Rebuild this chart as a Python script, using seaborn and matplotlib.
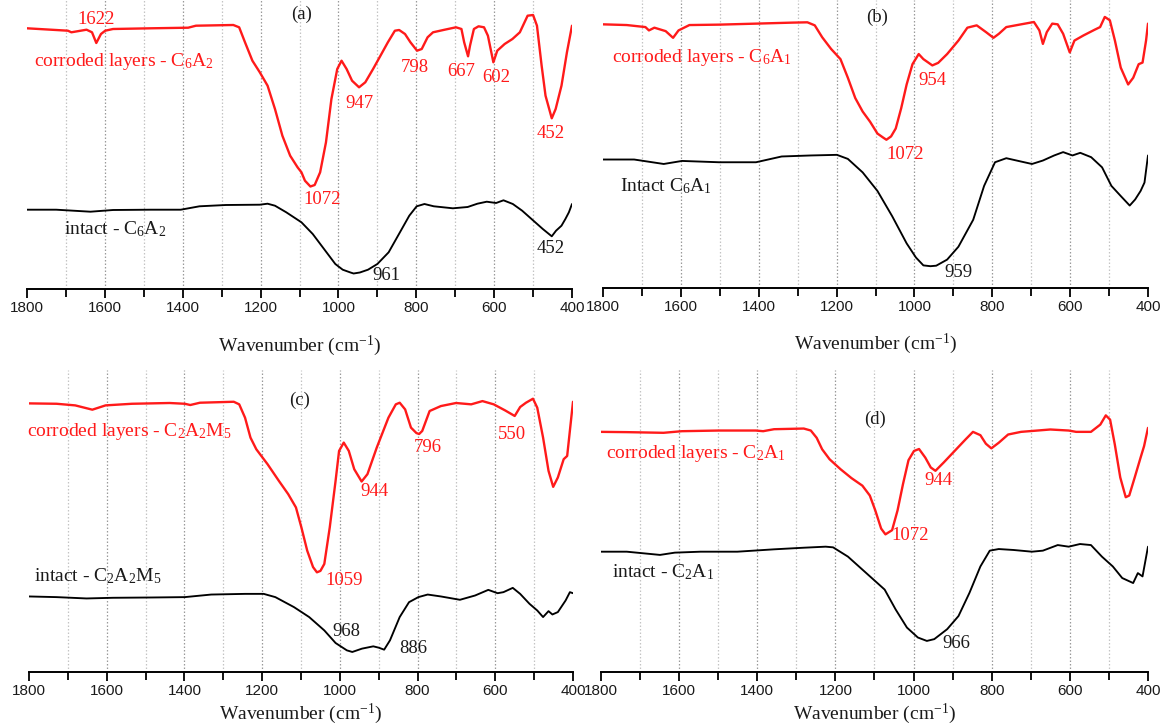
import matplotlib
matplotlib.use("Agg")
import matplotlib.pyplot as plt
import seaborn as sns
from matplotlib.ticker import MultipleLocator

# ---------------- FTIR spectra (transmittance, arbitrary units) ----------------
# (a) C6A2
a_cor_wn = [1800, 1695, 1686, 1647, 1633, 1622, 1610, 1599, 1579, 1482, 1386, 1366, 1270, 1255, 1240,
            1221, 1202, 1182, 1163, 1144, 1124, 1105, 1095, 1086, 1072, 1061, 1047, 1032, 1018, 1003,
            992, 979, 965, 947, 931, 911, 892, 873, 855, 844, 829, 815, 798, 786, 771, 757, 727, 698,
            684, 677, 667, 662, 652, 640, 626, 616, 602, 592, 573, 553, 534, 514, 500, 490, 478, 468,
            452, 442, 427, 413, 400]
a_cor_t = [260.7, 258.3, 256.7, 259.3, 256.7, 246, 255, 258.3, 260, 260.7, 261.3, 263.3, 264, 261.7, 246.7,
           228.3, 216.7, 203.3, 180, 153.3, 133.3, 121.7, 116.7, 108.3, 102.5, 104, 116.7, 146.7, 190, 220,
           228.3, 220, 208.3, 201.7, 206.7, 220, 233.3, 246.7, 258.3, 259, 255, 246.7, 238.3, 240, 251.7,
           256.7, 259.3, 261.7, 260, 246.7, 232.7, 243.3, 260, 262.7, 261.7, 253.3, 226.7, 238.3, 245,
           250, 256.7, 273.3, 274, 263.3, 223.3, 193.3, 170.7, 180, 203.3, 236.7, 263.3]
a_int_wn = [1800, 1725, 1637, 1579, 1482, 1405, 1357, 1289, 1202, 1182, 1163, 1134, 1095, 1066, 1037,
            1008, 989, 969, 961, 945, 924, 900, 871, 842, 818, 799, 779, 755, 706, 668, 643, 619, 595,
            576, 552, 528, 504, 475, 452, 441, 427, 417, 408, 400]
a_int_t = [79.3, 79.3, 77.3, 79, 79.3, 79.3, 82.7, 84, 84.3, 85.3, 83.3, 76.7, 66.7, 55, 40, 25, 19.3,
           16.5, 15.5, 16.5, 19.3, 25, 36.7, 56.7, 73.3, 82.7, 85, 82.7, 80.7, 82, 85.3, 87.3, 86, 88.7,
           85, 78.3, 70, 60, 52.7, 58.3, 63.3, 70, 76.7, 85]

# (b) C6A1
b_cor_wn = [1800, 1739, 1691, 1682, 1668, 1639, 1620, 1606, 1578, 1502, 1407, 1313, 1275, 1256, 1237,
            1214, 1190, 1171, 1152, 1133, 1114, 1095, 1081, 1072, 1060, 1048, 1034, 1020, 1005, 989,
            977, 954, 939, 916, 887, 864, 840, 816, 797, 783, 764, 726, 693, 679, 670, 660, 646, 632,
            618, 601, 589, 566, 537, 523, 511, 498, 485, 470, 451, 438, 424, 414, 405, 400]
b_cor_t = [260, 259.3, 257.3, 254, 256.7, 253.3, 246.7, 254, 259.3, 259.7, 260.7, 261.7, 262, 259, 247.3,
           235.7, 225.7, 207.3, 187.3, 174, 164, 152.3, 148.5, 146.2, 149.5, 157.3, 177.3, 200.7, 220.7,
           230.7, 225.7, 219.5, 222, 230.7, 244, 256.7, 259, 252.3, 246.7, 250.7, 257.3, 260, 262.3,
           254, 240.7, 252.3, 260.7, 260, 250.7, 232.3, 244, 249, 254.7, 257.3, 267.3, 264, 244, 217.3,
           200.7, 207.3, 220.7, 222.3, 244, 260.7]
b_int_wn = [1800, 1720, 1644, 1597, 1502, 1407, 1341, 1266, 1199, 1171, 1133, 1095, 1057, 1020, 996,
            977, 959, 944, 916, 887, 849, 821, 793, 764, 726, 698, 670, 641, 618, 594, 574, 546, 518,
            494, 470, 447, 433, 419, 409, 400]
b_int_t = [126.7, 126.7, 122.3, 125.3, 124, 124, 129.7, 130.7, 131.3, 127.3, 114, 95.7, 70.7, 44, 30,
           22.3, 21.5, 22, 28, 40.7, 67.3, 100.7, 124, 128, 124.7, 122.3, 125.7, 130.7, 134, 130.7,
           133.3, 129, 119, 100.7, 90.7, 81.3, 87.3, 95.7, 104, 130.7]

# (c) C2A2M5
c_cor_wn = [1800, 1729, 1681, 1637, 1603, 1535, 1438, 1399, 1385, 1360, 1273, 1259, 1244, 1230, 1215,
            1186, 1157, 1133, 1113, 1099, 1084, 1069, 1059, 1050, 1040, 1026, 1011, 1002, 990, 977,
            963, 944, 929, 905, 875, 856, 846, 832, 817, 803, 796, 788, 769, 740, 701, 662, 633, 604,
            575, 550, 536, 521, 503, 492, 477, 463, 451, 439, 424, 415, 400]
c_cor_t = [267.6, 267.2, 265.5, 261, 265.5, 267.2, 268, 267.2, 265.9, 268.3, 269.3, 266.6, 252.6, 231.7,
           219.5, 203.8, 186.4, 172.5, 158.5, 137.6, 113.2, 96, 90.5, 92, 99.3, 137.6, 186.4, 217.8,
           226.5, 217.8, 198.6, 185.7, 193.4, 221.3, 252.6, 266.6, 268.3, 261.3, 242.2, 236.5, 235.5,
           238.7, 259.6, 264.8, 268, 266.6, 270, 266.6, 260.3, 254.4, 263.8, 268.3, 272.5, 263.1, 231.7,
           196.9, 180.1, 189.9, 209.1, 212.5, 269.3]
c_int_wn = [1800, 1729, 1652, 1584, 1487, 1399, 1331, 1244, 1196, 1166, 1118, 1079, 1040, 1011, 982,
            968, 943, 914, 900, 886, 871, 846, 822, 798, 774, 740, 691, 652, 618, 594, 579, 555, 536,
            512, 492, 477, 463, 453, 439, 419, 408, 400]
c_int_t = [65.2, 64.5, 63.1, 63.8, 64.1, 64.5, 67.2, 67.9, 67.9, 64.5, 54, 43.6, 29.6, 16.4, 8.7, 7,
           10.5, 12.9, 11.5, 9.4, 19.2, 43.6, 59.2, 64.5, 67.2, 65.2, 61.7, 66.2, 72.1, 68.6, 69.7,
           74.2, 67.9, 57.5, 50.5, 43.6, 49.8, 46.3, 48.8, 61, 69.7, 68.6]

# (d) C2A1
d_cor_wn = [1800, 1734, 1640, 1593, 1498, 1404, 1385, 1357, 1281, 1263, 1248, 1234, 1215, 1187, 1159,
            1131, 1112, 1098, 1083, 1072, 1055, 1041, 1027, 1013, 999, 986, 970, 956, 944, 923, 895,
            867, 848, 829, 815, 801, 782, 758, 725, 650, 603, 584, 546, 522, 508, 497, 485, 471, 457,
            448, 434, 419, 410, 400]
d_cor_t = [239.7, 239.4, 238.7, 240.4, 241.1, 241.1, 240.4, 242.5, 243.2, 241.1, 233.4, 221.3, 210.8,
           200.3, 190.9, 182.9, 172.5, 156.8, 137.6, 131.5, 135.9, 156.8, 184.7, 209.8, 219.5, 221.6,
           212.5, 202.1, 198.6, 207.3, 219.5, 231.7, 239.7, 236.2, 227.2, 222.3, 228.2, 236.9, 239.7,
           242.2, 241.1, 239.7, 239.7, 247.4, 257.1, 252.6, 226.5, 191.6, 170.7, 172.5, 191.6, 212.5,
           224.7, 243.9]
d_int_wn = [1800, 1734, 1649, 1611, 1545, 1451, 1357, 1281, 1225, 1206, 1168, 1121, 1074, 1046, 1017,
            989, 966, 947, 914, 885, 857, 829, 805, 782, 744, 697, 669, 631, 603, 574, 546, 518, 490,
            466, 438, 426, 414, 400]
d_int_t = [113.2, 113.2, 109.8, 112.2, 113.2, 113.2, 115.7, 117.4, 118.5, 117.8, 108, 90.6, 73.2, 52.3,
           33.1, 22.6, 19, 20.9, 31.4, 45.3, 69.7, 97.6, 114.3, 116, 115, 113.2, 114.3, 120.2, 118.5,
           121.3, 120.2, 108, 97.6, 85.4, 80.1, 90.6, 87.1, 118.5]


# Sample names (subscripted oxide ratios)
def formula(*parts):
    out = ""
    for sym, n in parts:
        out += sym + r"$_{\mathregular{%s}}$" % n
    return out


C6A2 = formula(("C", 6), ("A", 2))
C6A1 = formula(("C", 6), ("A", 1))
C2A2M5 = formula(("C", 2), ("A", 2), ("M", 5))
C2A1 = formula(("C", 2), ("A", 1))

RED = "#ff1a1a"
INK = "#1a1a1a"

# Panel annotations: (text, wavenumber, value, colour, alignment)
a_notes = [("(a)", 1095, 275, INK, "center"),
           ("1622", 1623, 270, RED, "center"),
           ("corroded layers - " + C6A2, 1781, 228, RED, "left"),
           ("947", 945, 186, RED, "center"),
           ("1072", 1042, 90, RED, "center"),
           ("798", 805, 222, RED, "center"),
           ("667", 684, 218, RED, "center"),
           ("602", 594, 211, RED, "center"),
           ("452", 454, 155, RED, "center"),
           ("intact - " + C6A2, 1705, 60, INK, "left"),
           ("961", 877, 13, INK, "center"),
           ("452", 454, 40.7, INK, "center")]
b_notes = [("(b)", 1097, 267, INK, "center"),
           ("corroded layers - " + C6A1, 1776, 227, RED, "left"),
           ("954", 953, 205, RED, "center"),
           ("1072", 1024, 132, RED, "center"),
           ("Intact " + C6A1, 1757, 100.7, INK, "left"),
           ("959", 887, 15.7, INK, "center")]
c_notes = [("(c)", 1103, 271, INK, "center"),
           ("corroded layers - " + C2A2M5, 1804, 238, RED, "left"),
           ("944", 912, 175, RED, "center"),
           ("1059", 990, 82, RED, "center"),
           ("796", 775, 221, RED, "center"),
           ("550", 557, 235, RED, "center"),
           ("intact - " + C2A2M5, 1787, 87, INK, "left"),
           ("968", 984, 28, INK, "center"),
           ("886", 812, 10.5, INK, "center")]
d_notes = [("(d)", 1098, 252.6, INK, "center"),
           ("corroded layers - " + C2A1, 1786, 216.7, RED, "left"),
           ("944", 937, 188, RED, "center"),
           ("1072", 1008, 130.7, RED, "center"),
           ("intact - " + C2A1, 1772, 91.3, INK, "left"),
           ("966", 890, 16.7, INK, "center")]

# ---------------- styling ----------------
sns.set_theme(style="white")
plt.rcParams["font.family"] = ["Liberation Sans", "DejaVu Sans"]
plt.rcParams["mathtext.fontset"] = "custom"
plt.rcParams["mathtext.rm"] = "Liberation Serif"
plt.rcParams["mathtext.it"] = "Liberation Serif:italic"
plt.rcParams["mathtext.bf"] = "Liberation Serif:bold"

SERIF = ["Liberation Serif", "DejaVu Serif"]

W, H = 1168, 726
fig = plt.figure(figsize=(W / 100, H / 100), dpi=100)
fig.patch.set_facecolor("white")


def panel(rect_px, ylim, cor_wn, cor_t, int_wn, int_t, notes, labelpad):
    left, right, axis_y, top_y = rect_px
    ax = fig.add_axes([left / W, 1 - axis_y / H, (right - left) / W, (axis_y - top_y) / H])
    ax.set_facecolor("white")

    # vertical dotted guides at every 100 cm-1
    for wn in range(500, 1800, 100):
        major = wn % 200 == 0
        ax.axvline(wn, color="#9a9a9a" if major else "#c4c4c4", ls=(0, (1.2, 1.6)),
                   lw=0.9, zorder=0)

    sns.lineplot(x=cor_wn, y=cor_t, ax=ax, color=RED, lw=1.7, sort=False,
                 estimator=None, zorder=3)
    sns.lineplot(x=int_wn, y=int_t, ax=ax, color="black", lw=1.35, sort=False,
                 estimator=None, zorder=3)

    ax.set_xlim(1800, 400)
    ax.set_ylim(*ylim)
    for s in ("left", "right", "top"):
        ax.spines[s].set_visible(False)
    ax.spines["bottom"].set_color("black")
    ax.spines["bottom"].set_linewidth(1.4)
    ax.set_yticks([])
    ax.set_ylabel("")
    ax.xaxis.set_major_locator(MultipleLocator(200))
    ax.xaxis.set_minor_locator(MultipleLocator(100))
    ax.tick_params(axis="x", which="major", direction="out", length=6.5, width=1.3,
                   color="black", labelsize=11, labelcolor=INK, pad=2.2, bottom=True)
    ax.tick_params(axis="x", which="minor", direction="out", length=5.5, width=1.3,
                   color="black", bottom=True)
    ax.set_xlabel(r"Wavenumber (cm$^{\mathregular{-1}}$)", family=SERIF, fontsize=14,
                  color=INK, labelpad=labelpad)

    for text, wn, v, col, ha in notes:
        size = 14 if ha == "left" else 13.5
        ax.text(wn, v, text, color=col, ha=ha, va="center", family=SERIF,
                fontsize=size, zorder=4)
    return ax


panel((27, 572, 289, 0), (0, 289), a_cor_wn, a_cor_t, a_int_wn, a_int_t, a_notes, 13.2)
panel((603, 1148, 288, 0), (0, 284), b_cor_wn, b_cor_t, b_int_wn, b_int_t, b_notes, 12.7)
panel((29, 573, 672, 370), (-14, 302.6), c_cor_wn, c_cor_t, c_int_wn, c_int_t, c_notes, 2.7)
panel((601, 1148, 672, 370), (-13.8, 305), d_cor_wn, d_cor_t, d_int_wn, d_int_t, d_notes, 2.7)

fig.savefig("out.png", dpi=100, facecolor="white")
